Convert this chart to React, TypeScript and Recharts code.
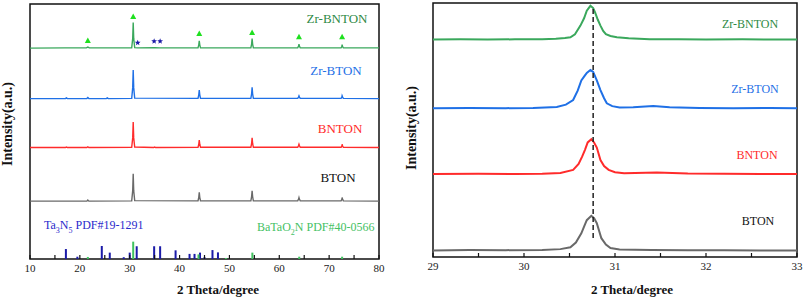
import React from "react";
import {
  ComposedChart,
  Line,
  Bar,
  Scatter,
  XAxis,
  YAxis,
  ReferenceArea,
  ReferenceLine,
} from "recharts";

// ---- wide scan, 10-80 deg: [2theta, relative intensity] ----
const zrBntonWide = [
  [10, 0.2], [17, 0.3], [21.3, 0.3], [21.6, 0.6], [21.9, 0.3], [30.4, 0.3], [30.6, 4], [30.7, 10.2],
  [30.8, 4], [31.0, 0.4], [31.6, 0.3], [35, 0.4], [36, 0.3], [43.7, 0.3], [43.85, 1.5], [43.95, 3.1],
  [44.05, 1.5], [44.2, 0.3], [54.3, 0.3], [54.45, 1.8], [54.55, 3.9], [54.65, 1.8], [54.8, 0.3],
  [63.7, 0.3], [63.85, 0.9], [63.95, 1.7], [64.05, 0.9], [64.2, 0.3], [72.4, 0.3], [72.55, 0.8],
  [72.6, 1.6], [72.7, 0.8], [72.85, 0.3], [80, 0.3],
];
const zrBtonWide = [
  [10, 0.2], [17.1, 0.2], [17.3, 0.5], [17.5, 0.2], [21.4, 0.2], [21.6, 0.6], [21.8, 0.2], [25.3, 0.2],
  [25.5, 0.5], [25.7, 0.2], [30.4, 0.3], [30.6, 4.5], [30.7, 11.4], [30.8, 4.5], [31.0, 0.4],
  [43.7, 0.3], [43.85, 1.7], [43.95, 3.5], [44.05, 1.7], [44.2, 0.3], [54.3, 0.3], [54.45, 2.1],
  [54.55, 4.6], [54.65, 2.1], [54.8, 0.3], [63.7, 0.3], [63.85, 0.8], [63.95, 1.3], [64.05, 0.8],
  [64.2, 0.3], [72.4, 0.3], [72.55, 0.8], [72.6, 1.3], [72.7, 0.8], [72.85, 0.3], [80, 0.2],
];
const bntonWide = [
  [10, 0.2], [17.1, 0.2], [17.3, 0.4], [17.5, 0.2], [21.4, 0.2], [21.6, 0.5], [21.8, 0.2], [30.4, 0.3],
  [30.6, 4], [30.7, 10.2], [30.8, 4], [31.0, 0.4], [34.8, 0.2], [35, 0.4], [35.2, 0.2], [43.7, 0.3],
  [43.85, 1.5], [43.95, 3.1], [44.05, 1.5], [44.2, 0.3], [54.3, 0.3], [54.45, 1.8], [54.55, 4.0],
  [54.65, 1.8], [54.8, 0.3], [63.7, 0.3], [63.85, 0.9], [63.95, 1.5], [64.05, 0.9], [64.2, 0.3],
  [72.4, 0.3], [72.55, 0.8], [72.6, 1.5], [72.7, 0.8], [72.85, 0.3], [80, 0.2],
];
const btonWide = [
  [10, 0.2], [21.4, 0.2], [21.6, 0.6], [21.8, 0.2], [30.4, 0.3], [30.6, 4.3], [30.7, 10.9], [30.8, 4.3],
  [31.0, 0.4], [43.7, 0.3], [43.85, 1.7], [43.95, 3.6], [44.05, 1.7], [44.2, 0.3], [54.3, 0.3],
  [54.45, 2.0], [54.55, 4.2], [54.65, 2.0], [54.8, 0.3], [63.7, 0.3], [63.85, 0.9], [63.95, 1.6],
  [64.05, 0.9], [64.2, 0.3], [72.4, 0.3], [72.55, 0.9], [72.6, 1.6], [72.7, 0.9], [72.85, 0.3], [80, 0.2],
];

// standard cards (stick patterns)
const ta3n5Pos = [17.2, 19.5, 24.4, 26.0, 28.8, 30.0, 31.4, 34.9, 36.1, 39.2, 42.0, 43.0, 44.1, 45.0, 46.6, 47.7];
const ta3n5Int = [3.9, 0.9, 5.1, 2.5, 0.7, 2.5, 5.0, 5.0, 5.0, 3.4, 2.0, 2.0, 2.5, 0.7, 3.5, 2.6];
const batao2nPos = [21.6, 30.7, 43.8, 49.3, 54.6, 64.0, 72.6];
const batao2nInt = [0.8, 6.8, 1.8, 0.4, 2.5, 0.9, 0.9];

// phase markers on the Zr-BNTON trace
const triangleMarks = [[21.6, 85.5], [30.7, 94.9], [43.95, 88.2], [54.55, 88.6], [63.95, 87], [72.6, 87]];
const starMarks = [[31.6, 84.8], [34.9, 85.4], [36.1, 85.4]];

// ---- zoomed scan, 29-33 deg ----
const zrBntonZoom = [
  [29, 0.1], [29.3, 0.2], [29.6, 0.1], [29.9, 0.2], [30.2, 0.2], [30.35, 0.4], [30.45, 0.7], [30.51, 1.0],
  [30.56, 2.2], [30.62, 5.6], [30.66, 8.5], [30.69, 11.5], [30.73, 13.4], [30.76, 12.5], [30.78, 10.9],
  [30.81, 8], [30.84, 5.6], [30.87, 3.5], [30.9, 2.2], [30.95, 1.5], [31.02, 1.0], [31.15, 0.6],
  [31.38, 0.2], [31.7, 0.2], [32, 0.1], [32.4, 0.2], [32.7, 0.1], [33, 0.1],
];
const zrBtonZoom = [
  [29, 0.1], [29.4, 0.2], [29.8, 0.1], [30.1, 0.2], [30.36, 0.6], [30.46, 1.5], [30.54, 3.3], [30.59, 7],
  [30.63, 11], [30.66, 12.5], [30.69, 14], [30.73, 15.1], [30.76, 14.4], [30.8, 11], [30.84, 7.2],
  [30.88, 4], [30.91, 2], [30.97, 0.9], [31.05, 0.4], [31.2, 0.5], [31.42, 0.9], [31.6, 0.5],
  [31.93, 0.2], [32.3, 0.1], [32.7, 0.2], [33, 0.1],
];
const bntonZoom = [
  [29, 0.1], [29.5, 0.2], [29.9, 0.1], [30.2, 0.2], [30.4, 0.5], [30.54, 1.7], [30.6, 4], [30.64, 7],
  [30.67, 9.6], [30.7, 12.5], [30.74, 13.8], [30.77, 12.5], [30.8, 10.5], [30.84, 5.6], [30.88, 3.2],
  [30.93, 1.7], [31.0, 0.8], [31.1, 0.4], [31.46, 0.7], [31.8, 0.3], [32.2, 0.2], [32.6, 0.1], [33, 0.1],
];
const btonZoom = [
  [29, 0.1], [29.4, 0.3], [29.8, 0.2], [30.2, 0.3], [30.4, 0.6], [30.51, 1.3], [30.57, 3.2], [30.63, 6.8],
  [30.66, 9.5], [30.69, 12], [30.74, 13.7], [30.77, 12.8], [30.8, 10.8], [30.85, 4.9], [30.9, 2.4],
  [30.95, 1.0], [31.05, 0.5], [31.4, 0.3], [31.8, 0.2], [32.2, 0.2], [32.6, 0.1], [33, 0.1],
];
const peakRef = 30.76;

const wideTicks = [10, 15, 20, 25, 30, 35, 40, 45, 50, 55, 60, 65, 70, 75, 80];
const zoomTicks = [29, 29.5, 30, 30.5, 31, 31.5, 32, 32.5, 33];

const GREEN = "#3aa85c";
const BLUE = "#1f70e6";
const RED = "#ff2b2b";
const GRAY = "#696969";
const FONT = "Liberation Serif, Times New Roman, serif";
const TICK_MARGIN = 5;

const offset = (pts: number[][], base: number) => pts.map(([t, v]) => ({ t, v: v + base }));

const sticks = [
  ...ta3n5Pos.map((t, i) => ({ t, ta: ta3n5Int[i], bt: 0 })),
  ...batao2nPos.map((t, i) => ({ t, ta: 0, bt: batao2nInt[i] })),
].sort((a, b) => a.t - b.t);

// eslint-disable-next-line @typescript-eslint/no-explicit-any
function XTick({ x, y, payload, major }: any) {
  const showLabel = major(payload.value);
  const axisY = y - TICK_MARGIN;
  return (
    <g>
      <line x1={x} x2={x} y1={axisY} y2={axisY - 4} stroke="#111" strokeWidth={1.2} />
      {showLabel && (
        <text x={x} y={y} dy="0.71em" textAnchor="middle" fontSize={11} fill="#222" style={{ fontFamily: FONT }}>
          {payload.value}
        </text>
      )}
    </g>
  );
}

// stick drawn at the centre of the slot Recharts gives the bar
// eslint-disable-next-line @typescript-eslint/no-explicit-any
const stick = (color: string) => (p: any) => {
  if (!p.height || Math.abs(p.height) < 0.01) return <g />;
  const h = Math.abs(p.height);
  const top = p.height < 0 ? p.y + p.height : p.y;
  return <rect x={p.x + p.width / 2 - 1} y={top} width={2} height={h} fill={color} />;
};

// eslint-disable-next-line @typescript-eslint/no-explicit-any
function Triangle({ cx, cy }: any) {
  return <polygon points={`${cx},${cy - 3.5} ${cx - 3},${cy + 2} ${cx + 3},${cy + 2}`} fill="#1fe01f" />;
}

// eslint-disable-next-line @typescript-eslint/no-explicit-any
function Star({ cx, cy }: any) {
  const pts: string[] = [];
  for (let i = 0; i < 10; i++) {
    const r = i % 2 === 0 ? 3 : 1.3;
    const a = -Math.PI / 2 + (i * Math.PI) / 5;
    pts.push(`${cx + r * Math.cos(a)},${cy + r * Math.sin(a)}`);
  }
  return <polygon points={pts.join(" ")} fill="#1a1aa6" />;
}

const labelStyle = (x: number, y: number, color: string, size: number): React.CSSProperties => ({
  position: "absolute",
  left: x,
  top: y,
  transform: "translate(-50%, -50%)",
  color,
  fontSize: size,
  fontFamily: FONT,
  whiteSpace: "nowrap",
  lineHeight: 1,
});

const titleStyle = (x: number, y: number, rotate = false): React.CSSProperties => ({
  position: "absolute",
  left: x,
  top: y,
  transform: `translate(-50%, -50%)${rotate ? " rotate(-90deg)" : ""}`,
  fontSize: rotate ? 14 : 13,
  fontWeight: "bold",
  fontFamily: FONT,
  whiteSpace: "nowrap",
  lineHeight: 1,
  color: "#111",
});

export default function App() {
  return (
    <div style={{ position: "absolute", left: 0, top: 0, width: 803, height: 300, background: "#fff" }}>
      {/* left: full pattern */}
      <div style={{ position: "absolute", left: 0, top: 0 }}>
        <ComposedChart width={400} height={300} data={sticks} margin={{ top: 4, right: 21, left: 30, bottom: 0 }}>
          <XAxis
            dataKey="t"
            type="number"
            domain={[10, 80]}
            ticks={wideTicks}
            allowDataOverflow
            axisLine={false}
            tickLine={false}
            tickSize={0}
            tickMargin={TICK_MARGIN}
            height={41}
            interval={0}
            tick={<XTick major={(v: number) => v % 10 === 0} />}
          />
          <YAxis type="number" domain={[0, 100]} hide allowDataOverflow />
          <Bar dataKey="ta" stackId="s" fill="#1b1ba8" shape={stick("#1b1ba8")} isAnimationActive={false} />
          <Bar dataKey="bt" stackId="s" fill="#3fc25f" shape={stick("#3fc25f")} isAnimationActive={false} />
          <Line data={offset(btonWide, 22.5)} dataKey="v" stroke={GRAY} strokeWidth={1.4} dot={false} isAnimationActive={false} />
          <Line data={offset(bntonWide, 43.5)} dataKey="v" stroke={RED} strokeWidth={1.4} dot={false} isAnimationActive={false} />
          <Line data={offset(zrBtonWide, 62.7)} dataKey="v" stroke={BLUE} strokeWidth={1.4} dot={false} isAnimationActive={false} />
          <Line data={offset(zrBntonWide, 82.5)} dataKey="v" stroke={GREEN} strokeWidth={1.4} dot={false} isAnimationActive={false} />
          <Scatter data={triangleMarks.map(([t, v]) => ({ t, v }))} dataKey="v" shape={<Triangle />} isAnimationActive={false} />
          <Scatter data={starMarks.map(([t, v]) => ({ t, v }))} dataKey="v" shape={<Star />} isAnimationActive={false} />
          <ReferenceArea x1={10} x2={80} y1={0} y2={100} fill="none" stroke="#111" strokeWidth={1.5} />
        </ComposedChart>
      </div>

      {/* right: zoom on the main reflection */}
      <div style={{ position: "absolute", left: 400, top: 0 }}>
        <ComposedChart width={403} height={300} margin={{ top: 3, right: 6, left: 33, bottom: 0 }}>
          <XAxis
            dataKey="t"
            type="number"
            domain={[29, 33]}
            ticks={zoomTicks}
            allowDataOverflow
            axisLine={false}
            tickLine={false}
            tickSize={0}
            tickMargin={TICK_MARGIN}
            height={43}
            interval={0}
            tick={<XTick major={(v: number) => Number.isInteger(v)} />}
          />
          <YAxis type="number" domain={[0, 100]} hide allowDataOverflow />
          <Line data={offset(btonZoom, 2.5)} dataKey="v" stroke={GRAY} strokeWidth={2} dot={false} isAnimationActive={false} />
          <Line data={offset(bntonZoom, 32.6)} dataKey="v" stroke={RED} strokeWidth={2} dot={false} isAnimationActive={false} />
          <Line data={offset(zrBtonZoom, 58.5)} dataKey="v" stroke={BLUE} strokeWidth={2} dot={false} isAnimationActive={false} />
          <Line data={offset(zrBntonZoom, 85.5)} dataKey="v" stroke={GREEN} strokeWidth={2} dot={false} isAnimationActive={false} />
          <ReferenceLine
            segment={[{ x: peakRef, y: 7.5 }, { x: peakRef, y: 98 }]}
            stroke="#222"
            strokeWidth={1.5}
            strokeDasharray="5 3"
          />
          <ReferenceArea x1={29} x2={33} y1={0} y2={100} fill="none" stroke="#111" strokeWidth={1.5} />
        </ComposedChart>
      </div>

      {/* axis titles */}
      <div style={titleStyle(8, 124, true)}>Intensity(a.u.)</div>
      <div style={titleStyle(218, 289)}>2 Theta/degree</div>
      <div style={titleStyle(412, 128, true)}>Intensity(a.u.)</div>
      <div style={titleStyle(632, 289)}>2 Theta/degree</div>

      {/* sample labels, left */}
      <div style={labelStyle(337, 18, "#2f8a45", 13)}>Zr-BNTON</div>
      <div style={labelStyle(336, 70, BLUE, 13)}>Zr-BTON</div>
      <div style={labelStyle(340, 128, RED, 13)}>BNTON</div>
      <div style={labelStyle(338, 177, "#111", 13)}>BTON</div>
      <div style={{ ...labelStyle(44, 227, "#2a2acc", 12), transform: "translate(0, -50%)" }}>
        Ta<sub style={{ fontSize: 8 }}>3</sub>N<sub style={{ fontSize: 8 }}>5</sub> PDF#19-1291
      </div>
      <div style={{ ...labelStyle(257, 229, "#44c164", 12), transform: "translate(0, -50%)" }}>
        BaTaO<sub style={{ fontSize: 8 }}>2</sub>N PDF#40-0566
      </div>

      {/* sample labels, right */}
      <div style={labelStyle(750, 24, "#2f8a45", 12)}>Zr-BNTON</div>
      <div style={labelStyle(755, 89, BLUE, 12)}>Zr-BTON</div>
      <div style={labelStyle(757, 155, RED, 12)}>BNTON</div>
      <div style={labelStyle(758, 221, "#111", 12)}>BTON</div>
    </div>
  );
}
